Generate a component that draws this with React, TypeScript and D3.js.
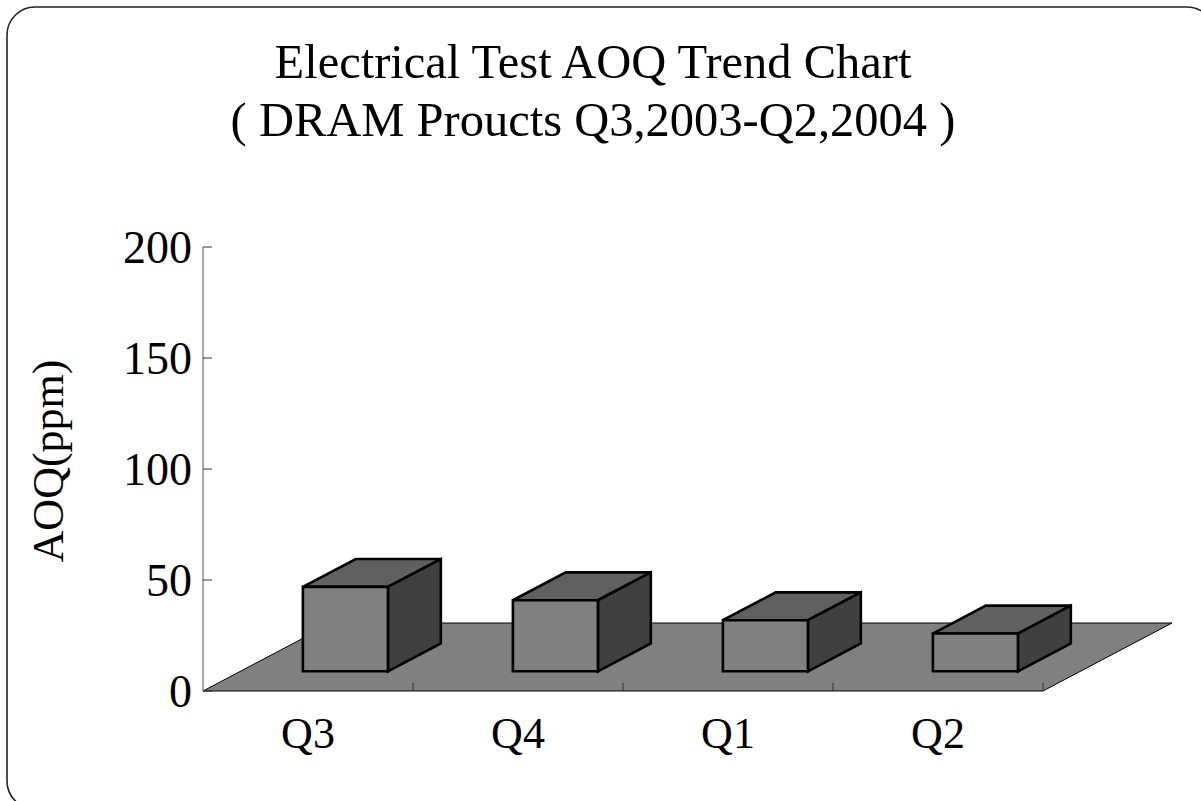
import React from "react";
import * as d3 from "d3";

const categories = ["Q3", "Q4", "Q1", "Q2"];
const aoqValues = [38, 32, 23, 17];
const yTicks = [0, 50, 100, 150, 200];
const titleLines = ["Electrical Test AOQ Trend Chart", "( DRAM Proucts Q3,2003-Q2,2004 )"];
const yAxisTitle = "AOQ(ppm)";

const W = 1201;
const H = 801;
const FONT = "'Liberation Serif', 'Times New Roman', serif";

export default function App() {
  const x0 = 203, x1 = 1043;
  const y = d3.scaleLinear().domain([0, 200]).range([691, 247]);
  const x = d3.scaleBand<string>().domain(categories).range([x0, x1]).paddingInner(0).paddingOuter(0);
  const depthX = 129, depthY = -68;
  const frontFrac = 0.29, backFrac = 0.70;
  const barW = x.bandwidth() * 0.405;
  const base = y(0);

  const floor = [
    [x0, base],
    [x1, base],
    [x1 + depthX, base + depthY],
    [x0 + depthX, base + depthY],
  ];
  const line = d3.line();

  const fx = depthX * frontFrac, fy = depthY * frontFrac;
  const dx = depthX * (backFrac - frontFrac), dy = depthY * (backFrac - frontFrac);

  return (
    <svg width={W} height={H} style={{ position: "absolute", left: 0, top: 0, display: "block" }}>
      <rect x={0} y={0} width={W} height={H} fill="#fff" />
      <rect x={7} y={7} width={1208} height={802} rx={28} ry={28} fill="#fff" stroke="#222" strokeWidth={1.6} />
      {titleLines.map((t, i) => (
        <text key={i} x={593} y={78 + i * 58} textAnchor="middle" fontFamily={FONT} fontSize={48.5} fill="#000">
          {t}
        </text>
      ))}
      <path d={line(floor as [number, number][]) + "Z"} fill="#808080" stroke="#000" strokeWidth={1} />
      <line x1={x0} x2={x0} y1={y(200)} y2={base} stroke="#555" strokeWidth={1} />
      {yTicks.map((t) => (
        <g key={t}>
          <line x1={x0} x2={x0 + 9} y1={y(t)} y2={y(t)} stroke="#333" strokeWidth={1} />
          <text x={192} y={y(t)} dy="0.34em" textAnchor="end" fontFamily={FONT} fontSize={46} fill="#000">
            {t}
          </text>
        </g>
      ))}
      {categories.map((c) => (
        <line key={c} x1={(x(c) as number) + x.bandwidth()} x2={(x(c) as number) + x.bandwidth()} y1={base - 8} y2={base} stroke="#333" strokeWidth={1} />
      ))}
      {categories.map((c, i) => {
        const cx = (x(c) as number) + x.bandwidth() / 2 + fx;
        const l = cx - barW / 2, r = cx + barW / 2;
        const b = base + fy;
        const h = base - y(aoqValues[i]);
        const t = b - h;
        const front: [number, number][] = [[l, t], [r, t], [r, b], [l, b]];
        const top: [number, number][] = [[l, t], [l + dx, t + dy], [r + dx, t + dy], [r, t]];
        const side: [number, number][] = [[r, t], [r + dx, t + dy], [r + dx, b + dy], [r, b]];
        return (
          <g key={c} stroke="#000" strokeWidth={2.6} strokeLinejoin="miter">
            <path d={line(top) + "Z"} fill="#606060" />
            <path d={line(side) + "Z"} fill="#404040" />
            <path d={line(front) + "Z"} fill="#808080" />
          </g>
        );
      })}
      {categories.map((c) => (
        <text key={c} x={(x(c) as number) + x.bandwidth() / 2} y={748} textAnchor="middle" fontFamily={FONT} fontSize={44} fill="#000">
          {c}
        </text>
      ))}
      <text transform={`translate(63,461) rotate(-90)`} textAnchor="middle" fontFamily={FONT} fontSize={44} fill="#000">
        {yAxisTitle}
      </text>
    </svg>
  );
}
